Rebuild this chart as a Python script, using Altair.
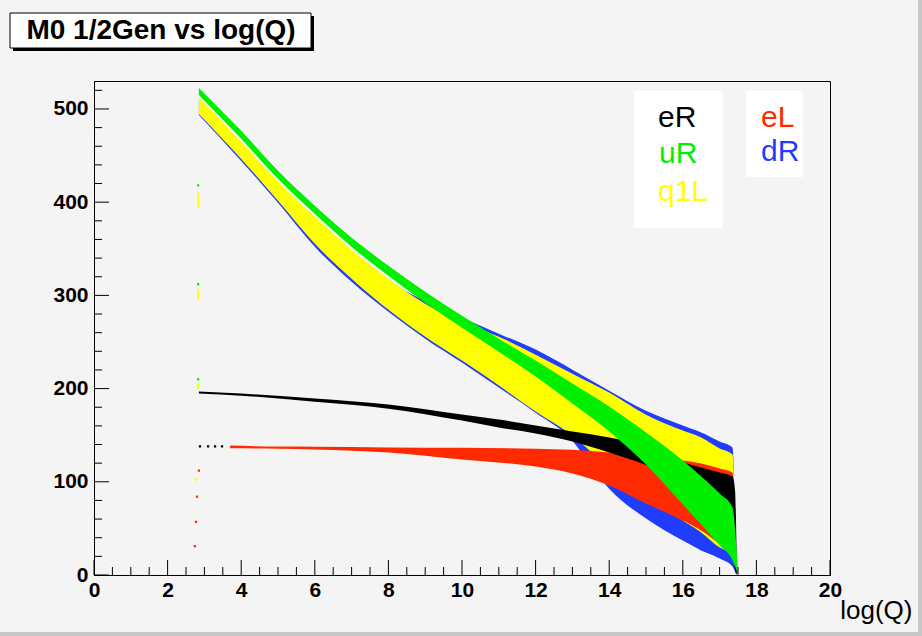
import altair as alt
import pandas as pd

# ---------------- data ----------------
# uR (green)
ur_x  = [2.85, 4, 5, 6, 7, 8, 9, 10, 11, 12, 13, 14, 15, 16, 16.5, 17, 17.35, 17.5]
ur_hi = [522.6, 476.5, 433.6, 396.1, 361.8, 331.8, 303.9, 278.2, 253.6, 230.0, 205.4, 180.7, 152.9, 122.9, 105.8, 87.5, 72.5, 2.8]
ur_lo = [515.1, 468.0, 425.0, 387.5, 352.1, 321.0, 292.1, 265.3, 239.6, 212.9, 184.0, 154.0, 118.6, 75.7, 54.3, 31.8, 15.7, 0.6]

# q1L (yellow)
q1_x  = [2.85, 4, 5, 6, 7, 8, 9, 10, 11, 12, 13, 14, 15, 16, 16.5, 17, 17.35, 17.45]
q1_hi = [511.9, 464.7, 421.9, 384.4, 349.0, 317.9, 291.0, 271.0, 255.7, 236.3, 216.0, 195.7, 172.0, 155.0, 147.5, 135.7, 129.3, 7.0]
q1_lo = [494.7, 446.4, 401.5, 355.4, 317.9, 284.6, 255.7, 230.0, 203.3, 175.4, 149.6, 114.1, 85.3, 58.5, 45.6, 29.6, 23.1, 0.6]

# dR (blue)
dr_x  = [2.85, 4, 5, 6, 7, 8, 9, 10, 11, 12, 13, 13.5, 14, 15, 16, 16.5, 17, 17.35, 17.45]
dr_hi = [508.7, 462.5, 419.7, 382.2, 346.9, 315.8, 294.0, 276.0, 258.9, 241.8, 220.3, 209.0, 197.8, 176.2, 160.3, 152.8, 143.2, 136.8, 7.0]
dr_lo = [493.6, 444.3, 399.3, 352.1, 314.6, 282.5, 253.6, 227.9, 201.1, 174.2, 144.1, 117.3, 92.5, 60.6, 37.0, 26.4, 17.8, 9.2, 0.6]

# eL (red)
el_x  = [3.7, 5, 6, 8, 10, 12, 13, 14, 15, 16, 16.5, 17, 17.35, 17.45]
el_hi = [138.9, 137.8, 137.6, 136.9, 136.4, 135.5, 134.3, 131.4, 126.5, 122.9, 119.6, 114.3, 110.0, 2.8]
el_lo = [135.9, 135.5, 134.6, 131.4, 123.8, 116.4, 108.9, 96.0, 76.7, 58.5, 47.8, 33.9, 26.4, 0.6]

# eR (black)
er_x  = [2.85, 4, 6, 8, 10, 11, 12, 13, 14, 15, 16, 16.5, 17, 17.35, 17.42, 17.47]
er_hi = [196.8, 194.6, 189.3, 182.9, 172.1, 166.8, 160.3, 153.9, 147.5, 139.0, 121.0, 115.3, 110.0, 105.7, 90.7, 4.9]
er_lo = [194.6, 192.4, 186.0, 178.5, 165.7, 158.2, 151.8, 143.2, 131.4, 118.0, 101.0, 92.8, 83.2, 72.5, 4.9, 0.6]

# isolated points near the start
dot_x   = [2.83, 2.83, 2.83, 2.85, 2.80, 2.77, 2.74, 2.88, 3.10, 3.29, 3.48]
dot_y   = [418, 312, 210, 112, 84, 57, 31, 138, 138, 138, 138]
dot_grp = ["uR", "uR", "uR", "eL", "eL", "eL", "eL", "eR", "eR", "eR", "eR"]
seg_x   = [2.83, 2.83, 2.83, 2.77]
seg_lo  = [394, 296, 200, 101]
seg_hi  = [410, 307, 206, 104]

names   = ["eR", "uR", "q1L", "eL", "dR"]
colors  = {"eR": "#000000", "uR": "#00ee00", "q1L": "#ffff00", "eL": "#ff2a00", "dR": "#1f3cff"}

x_major = [0, 2, 4, 6, 8, 10, 12, 14, 16, 18, 20]
x_minor = [0.5, 1, 1.5, 2.5, 3, 3.5, 4.5, 5, 5.5, 6.5, 7, 7.5, 8.5, 9, 9.5, 10.5, 11, 11.5,
           12.5, 13, 13.5, 14.5, 15, 15.5, 16.5, 17, 17.5, 18.5, 19, 19.5]
y_major = [0, 100, 200, 300, 400, 500]
y_minor = [20, 40, 60, 80, 120, 140, 160, 180, 220, 240, 260, 280, 320, 340, 360, 380,
           420, 440, 460, 480, 520]

# ---------------- chart ----------------
W, H = 736, 494
FONT = "Liberation Sans"
xs = alt.Scale(domain=[0, 20], nice=False, zero=False)
ys = alt.Scale(domain=[0, 530], nice=False, zero=False)
one = pd.DataFrame({"a": [0]})

XAXIS = alt.Axis(values=x_major, ticks=False, grid=False, domain=True, domainColor="black",
                 labelFont=FONT, labelFontSize=21, labelFontWeight="bold", labelColor="black",
                 labelPadding=4, labelFlush=False, labelOverlap=False,
                 titleFont=FONT, titleFontSize=26, titleFontWeight="normal", titleColor="black",
                 titleAlign="right", titleX=818, titleY=43, titleBaseline="alphabetic", zindex=1)
YAXIS = alt.Axis(values=y_major, ticks=False, grid=False, domain=True, domainColor="black",
                 labelFont=FONT, labelFontSize=21, labelFontWeight="bold", labelColor="black",
                 labelPadding=6, labelFlush=False, labelOverlap=False, zindex=1)


def X(field):
    return alt.X(field, scale=xs, axis=XAXIS, title="log(Q)")


def Y(field):
    return alt.Y(field, scale=ys, axis=YAXIS, title=None)


def band(xv, lo, hi, color):
    df = pd.DataFrame({"x": xv, "lo": lo, "hi": hi})
    return alt.Chart(df).mark_area(color=color, opacity=1, interpolate="monotone").encode(
        x=X("x:Q"), y=Y("hi:Q"), y2="lo:Q")


def box(x1, x2, y1, y2, fill, stroke=None):
    kw = dict(fill=fill)
    if stroke:
        kw.update(stroke=stroke, strokeWidth=1)
    return alt.Chart(one).mark_rect(**kw).encode(
        x=alt.value(x1), x2=alt.value(x2), y=alt.value(y1), y2=alt.value(y2))


def label(txt, x, y, color, size, weight="normal", align="left", baseline="alphabetic"):
    return alt.Chart(one).mark_text(
        text=txt, font=FONT, fontSize=size, fontWeight=weight, color=color,
        align=align, baseline=baseline,
    ).encode(x=alt.value(x), y=alt.value(y))


xmaj = alt.Chart(pd.DataFrame({"x": x_major})).mark_rule(color="black", strokeWidth=1).encode(
    x=X("x:Q"), y=alt.value(H), y2=alt.value(H - 15))
xmin = alt.Chart(pd.DataFrame({"x": x_minor})).mark_rule(color="black", strokeWidth=1).encode(
    x=X("x:Q"), y=alt.value(H), y2=alt.value(H - 8))
ymaj = alt.Chart(pd.DataFrame({"y": y_major})).mark_rule(color="black", strokeWidth=1).encode(
    y=Y("y:Q"), x=alt.value(0), x2=alt.value(15))
ymin = alt.Chart(pd.DataFrame({"y": y_minor})).mark_rule(color="black", strokeWidth=1).encode(
    y=Y("y:Q"), x=alt.value(0), x2=alt.value(8))

dots = alt.Chart(pd.DataFrame({"x": dot_x, "y": dot_y, "g": dot_grp})).mark_square(size=5, opacity=1).encode(
    x=X("x:Q"), y=Y("y:Q"),
    color=alt.Color("g:N", scale=alt.Scale(domain=list(colors.keys()), range=list(colors.values())), legend=None))
segs = alt.Chart(pd.DataFrame({"x": seg_x, "lo": seg_lo, "hi": seg_hi})).mark_rule(
    color=colors["q1L"], strokeWidth=2).encode(x=X("x:Q"), y=Y("hi:Q"), y2="lo:Q")

layers = [
    band(dr_x, dr_lo, dr_hi, colors["dR"]),
    band(q1_x, q1_lo, q1_hi, colors["q1L"]),
    band(el_x, el_lo, el_hi, colors["eL"]),
    band(er_x, er_lo, er_hi, colors["eR"]),
    band(ur_x, ur_lo, ur_hi, colors["uR"]),
    dots, segs,
    xmaj, xmin, ymaj, ymin,
    # legend panes
    box(540, 629, 10, 147, "white"),
    box(652, 709, 10, 96, "white"),
    label(names[0], 564, 46, colors["eR"], 30),
    label(names[1], 565, 82, colors["uR"], 30),
    label(names[2], 564, 120, colors["q1L"], 30),
    label(names[3], 667, 46, colors["eL"], 30),
    label(names[4], 667, 80, colors["dR"], 30),
    # title pave with shadow
    box(-81, 220, -65, -30, "black"),
    box(-84, 217, -68, -33, "white", "black"),
    label("M0 1/2Gen vs log(Q)", 67, -50, "black", 28, weight="bold", align="center", baseline="middle"),
    # canvas border (bottom / right)
    box(-94, 828, 551, 555, "#c8c8c8"),
    box(824, 828, -81, 555, "#c8c8c8"),
]

chart = alt.layer(*layers).properties(
    width=W, height=H,
    autosize=alt.AutoSizeParams(type="none"),
    padding={"left": 94, "top": 81, "right": 92, "bottom": 61},
).configure(background="#f4f4f4").configure_view(stroke="black", strokeWidth=1, fill="#f4f4f4")

chart.save("out.html", embed_options={"renderer": "svg", "actions": False})
